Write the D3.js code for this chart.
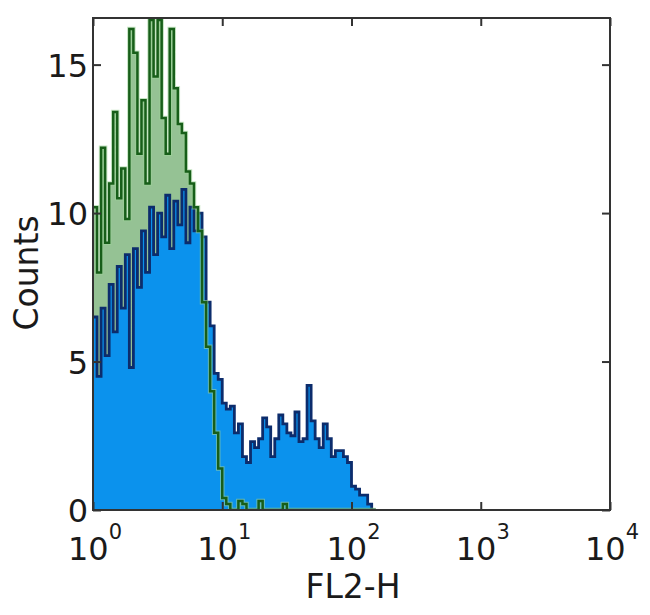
<!DOCTYPE html>
<html>
<head>
<meta charset="utf-8">
<script src="https://cdn.jsdelivr.net/npm/d3@7"></script>
<style>
  html, body { margin: 0; padding: 0; background: #fff; }
  svg { display: block; }
  text { font-family: "DejaVu Sans", "Liberation Sans", Arial, sans-serif; fill: #1a1a1a; }
</style>
</head>
<body>
<svg id="chart" width="650" height="615"></svg>
<script>
(function () {
// ---- data ----
// histogram channels: 32 channels per decade, starting at 10^0
const binsPerDecade = 32;
// sample (filled blue) counts per channel
const sampleCounts = [
  6.5, 4.5, 6.8, 5.2, 7.6, 6.0, 8.2, 6.8, 8.6, 4.8,
  8.8, 7.5, 9.4, 8.0, 10.2, 8.6, 10.0, 9.2, 10.6, 8.8,
  10.4, 9.6, 10.8, 9.0, 10.2, 9.4, 10.0, 9.2, 7.0, 6.2,
  4.6, 4.4, 3.6, 3.4, 3.5, 2.6, 2.9, 1.8, 1.6, 2.3,
  2.1, 2.4, 3.1, 2.8, 1.8, 2.4, 3.2, 2.9, 2.6, 2.5,
  3.3, 2.3, 2.4, 4.2, 3.0, 2.4, 2.1, 2.9, 2.4, 1.8,
  2.0, 2.0, 1.8, 1.6, 0.8, 0.7, 0.5, 0.5, 0.2, 0
];
// isotype control (green line) counts per channel
const controlCounts = [
  10.2, 8.0, 12.2, 9.0, 11.0, 13.4, 10.5, 11.5, 9.8, 16.2,
  15.4, 12.0, 13.8, 11.0, 16.5, 14.6, 16.5, 13.2, 12.0, 16.2,
  14.2, 13.0, 12.7, 11.4, 11.0, 10.2, 9.4, 7.0, 5.5, 4.0,
  2.6, 1.4, 0.4, 0.2, 0, 0, 0.3, 0.2, 0, 0,
  0, 0.3, 0, 0, 0, 0, 0, 0.2, 0, 0,
  0, 0, 0, 0, 0, 0, 0, 0, 0, 0,
  0, 0, 0, 0, 0, 0, 0, 0, 0, 0
];
const xTickExponents = [0, 1, 2, 3, 4];
const yTicks = [0, 5, 10, 15];
const xLabel = "FL2-H";
const yLabel = "Counts";

// ---- layout ----
const svg = d3.select("#chart");
const L = 93, R = 610, T = 18, B = 510;
const x = d3.scaleLog().domain([1, 1e4]).range([L, R]);
const y = d3.scaleLinear().domain([0, 16.57]).range([B, T]);

function edges(n) { return d3.range(n + 1).map(i => Math.pow(10, i / binsPerDecade)); }
function stairs(counts) {
  const e = edges(counts.length);
  const pts = counts.map((c, i) => [e[i], c]);
  pts.push([e[counts.length], counts[counts.length - 1]]);
  return pts;
}

svg.append("clipPath").attr("id", "plotclip")
  .append("rect").attr("x", L).attr("y", T).attr("width", R - L).attr("height", B - T);

const g = svg.append("g").attr("clip-path", "url(#plotclip)");

const samplePts = stairs(sampleCounts);
const controlPts = stairs(controlCounts);

const area = d3.area().curve(d3.curveStepAfter)
  .x(d => x(d[0])).y0(y(0)).y1(d => y(d[1]));
const line = d3.line().curve(d3.curveStepAfter)
  .x(d => x(d[0])).y(d => y(d[1]));

// green body of the control histogram (blurred jagged trace in the original)
g.append("path").attr("d", area(controlPts)).attr("fill", "#4f9a4c").attr("fill-opacity", 0.6);
g.append("path").attr("d", area(samplePts)).attr("fill", "#0b92ed");
g.append("path").attr("d", line(samplePts)).attr("fill", "none")
  .attr("stroke", "#0c2c6c").attr("stroke-width", 2.8);
g.append("path").attr("d", line(controlPts)).attr("fill", "none")
  .attr("stroke", "#9fd49a").attr("stroke-width", 4.5).attr("stroke-opacity", 0.6);
g.append("path").attr("d", line(controlPts)).attr("fill", "none")
  .attr("stroke", "#175e19").attr("stroke-width", 2.5);

// ---- axes / box ----
const axisColor = "#333";
svg.append("rect").attr("x", L).attr("y", T).attr("width", R - L).attr("height", B - T)
  .attr("fill", "none").attr("stroke", axisColor).attr("stroke-width", 2);

const xTickVals = xTickExponents.map(e => Math.pow(10, e));
const axB = d3.axisBottom(x).tickValues(xTickVals).tickSize(-8).tickFormat("");
const axT = d3.axisTop(x).tickValues(xTickVals).tickSize(-8).tickFormat("");
const axL = d3.axisLeft(y).tickValues(yTicks).tickSize(-8).tickFormat("");
const axR = d3.axisRight(y).tickValues(yTicks).tickSize(-8).tickFormat("");

[[axB, `translate(0,${B})`], [axT, `translate(0,${T})`],
 [axL, `translate(${L},0)`], [axR, `translate(${R},0)`]].forEach(([ax, tr]) => {
  const a = svg.append("g").attr("transform", tr).call(ax);
  a.select(".domain").remove();
  a.selectAll("line").attr("stroke", axisColor).attr("stroke-width", 2);
});

// y tick labels
svg.append("g").selectAll("text").data(yTicks).join("text")
  .attr("x", L - 5).attr("y", d => y(d) + 12)
  .attr("text-anchor", "end").attr("font-size", 32)
  .text(d => d);

// x tick labels with superscripts
const xl = svg.append("g").selectAll("text").data(xTickExponents).join("text")
  .attr("x", d => x(Math.pow(10, d)) + 2).attr("y", 560)
  .attr("text-anchor", "middle").attr("font-size", 32);
xl.append("tspan").text("10");
xl.append("tspan").attr("dy", -21).attr("font-size", 21).text(d => d);

// axis labels
svg.append("text").attr("x", 353).attr("y", 598).attr("text-anchor", "middle")
  .attr("font-size", 33).text(xLabel);
svg.append("text").attr("transform", "translate(38,273) rotate(-90)")
  .attr("text-anchor", "middle").attr("font-size", 33).text(yLabel);
})();
</script>
</body>
</html>
